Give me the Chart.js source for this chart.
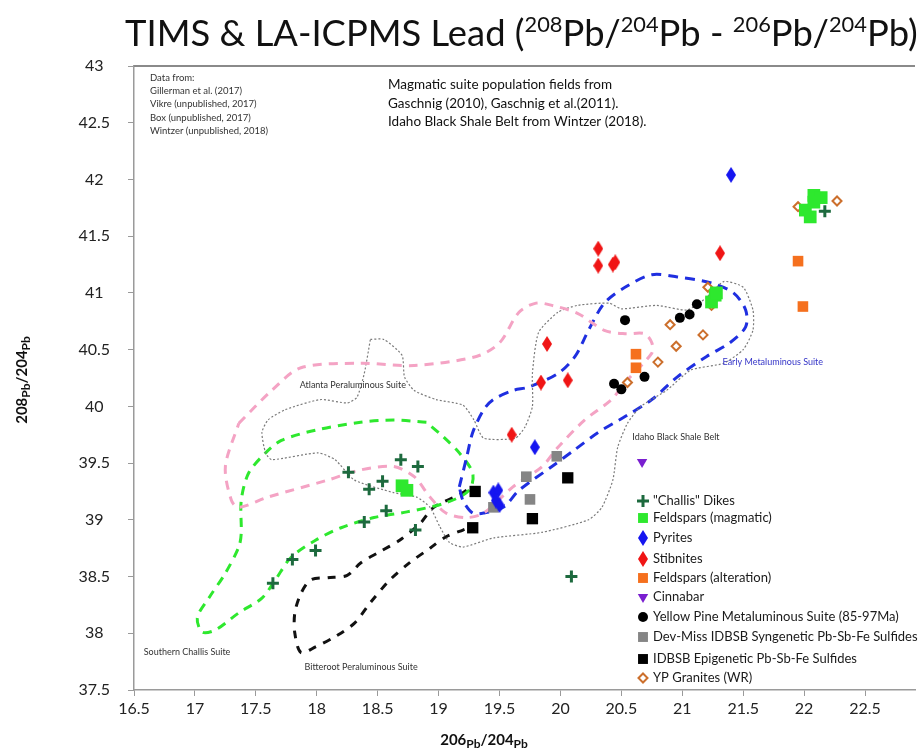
<!DOCTYPE html>
<html>
<head>
<meta charset="utf-8">
<script src="https://cdn.jsdelivr.net/npm/chart.js@4.4.0/dist/chart.umd.min.js"></script>
<style>
  body { margin: 0; background: #fff; }
  canvas { display: block; }
</style>
</head>
<body>
<canvas id="leadChart" width="924" height="755"></canvas>
<script>
// axis ticks
const xTicks = [16.5, 17, 17.5, 18, 18.5, 19, 19.5, 20, 20.5, 21, 21.5, 22, 22.5];
const yTicks = [37.5, 38, 38.5, 39, 39.5, 40, 40.5, 41, 41.5, 42, 42.5, 43];

// sample series [206Pb/204Pb, 208Pb/204Pb]
const challisDikes = [[18.26,39.42],[18.69,39.53],[18.83,39.47],[18.43,39.27],[18.54,39.34],[18.57,39.08],
  [18.39,38.98],[18.81,38.91],[17.99,38.73],[17.80,38.65],[17.64,38.44],[20.09,38.50],[22.17,41.72]];
const feldsparsMagmatic = [[18.70,39.30],[18.74,39.26],[21.27,40.98],[21.24,40.92],[21.28,41.00],
  [22.08,41.86],[22.14,41.84],[22.01,41.73],[22.05,41.67],[22.08,41.80]];
const pyrites = [[21.40,42.04],[19.79,39.64],[19.45,39.24],[19.49,39.26],[19.47,39.17],[19.50,39.13]];
const stibnites = [[20.31,41.39],[20.31,41.24],[20.43,41.25],[20.45,41.27],[21.31,41.35],[19.89,40.55],
  [19.84,40.21],[20.06,40.23],[19.60,39.75]];
const feldsparsAlteration = [[20.62,40.46],[20.62,40.34],[21.95,41.28],[21.99,40.88]];
const cinnabar = [[20.67,39.51]];
const yellowPine = [[20.53,40.76],[20.98,40.78],[21.06,40.81],[21.12,40.90],[20.44,40.20],[20.50,40.15],[20.69,40.26]];
const devMiss = [[19.97,39.56],[19.72,39.38],[19.75,39.18],[19.45,39.11]];
const idbsbEpi = [[19.30,39.25],[19.28,38.93],[20.06,39.37],[19.77,39.01]];
const ypGranites = [[21.95,41.76],[22.27,41.81],[21.21,41.05],[20.90,40.72],[20.95,40.53],[21.17,40.63],
  [20.80,40.39],[20.55,40.21],[21.24,40.89]];

// population field outlines
const atlantaField = [[17.36,39.85],[17.63,40.14],[17.87,40.34],[18.36,40.38],[18.80,40.36],[19.31,40.44],[19.50,40.56],
  [19.66,40.83],[19.80,40.91],[19.93,40.89],[20.14,40.82],[20.36,40.67],[20.53,40.64],[20.69,40.64],[20.75,40.56],
  [20.75,40.47],[20.53,40.21],[20.42,40.06],[20.20,39.88],[19.98,39.64],[19.85,39.47],[19.61,39.29],[19.37,39.06],
  [19.23,39.02],[19.06,39.06],[18.93,39.20],[18.80,39.38],[18.63,39.47],[18.36,39.44],[18.09,39.35],[17.60,39.20],
  [17.36,39.11],[17.30,39.17],[17.25,39.47],[17.36,39.85]];
const shaleBelt = [[18.44,40.59],[18.55,40.59],[18.70,40.45],[18.72,40.26],[18.80,40.14],[18.98,40.06],[19.20,40.01],
  [19.29,39.88],[19.37,39.72],[19.63,39.72],[19.71,39.82],[19.77,40.00],[19.77,40.29],[19.82,40.65],[19.98,40.83],
  [20.14,40.89],[20.40,40.91],[20.50,40.86],[20.79,40.89],[21.04,40.85],[21.20,40.96],[21.34,41.10],[21.50,41.05],
  [21.58,40.85],[21.58,40.67],[21.50,40.50],[21.34,40.38],[21.07,40.32],[20.87,40.14],[20.66,40.00],[20.55,39.85],
  [20.47,39.64],[20.43,39.35],[20.34,39.11],[20.23,39.00],[19.85,38.89],[19.45,38.84],[19.20,38.76],[19.09,38.80],
  [19.01,38.94],[18.93,39.11],[18.82,39.20],[18.63,39.24],[18.31,39.35],[18.15,39.53],[18.01,39.59],[17.63,39.53],
  [17.58,39.59],[17.55,39.77],[17.60,39.88],[17.74,39.97],[18.03,40.06],[18.25,40.03],[18.33,40.08],[18.39,40.29],
  [18.44,40.59]];
const earlyMetaluminous = [[19.17,39.29],[19.23,39.55],[19.28,39.77],[19.37,39.97],[19.45,40.06],[19.61,40.14],
  [19.74,40.17],[19.98,40.29],[20.12,40.44],[20.23,40.67],[20.36,40.91],[20.53,41.05],[20.75,41.16],[20.96,41.14],
  [21.23,41.09],[21.42,41.00],[21.52,40.85],[21.52,40.70],[21.39,40.56],[21.20,40.44],[20.96,40.26],[20.75,40.06],
  [20.53,39.91],[20.31,39.77],[20.12,39.62],[19.93,39.47],[19.66,39.26],[19.53,39.11],[19.37,39.06],[19.28,39.06],
  [19.20,39.17],[19.17,39.29]];
const southernChallis = [[18.90,39.86],[18.63,39.88],[18.36,39.86],[17.99,39.79],[17.71,39.70],[17.58,39.59],
  [17.44,39.41],[17.38,39.17],[17.38,38.88],[17.36,38.76],[17.25,38.53],[17.12,38.32],[17.02,38.14],[17.06,38.01],
  [17.17,38.03],[17.36,38.18],[17.55,38.31],[17.66,38.47],[17.79,38.67],[17.99,38.82],[18.20,38.93],[18.47,39.02],
  [18.74,39.07],[19.06,39.15],[19.25,39.26],[19.28,39.41],[19.17,39.59],[19.04,39.73],[18.90,39.86]];
const bitterroot = [[19.23,39.26],[19.17,39.22],[18.96,39.11],[18.85,38.97],[18.68,38.82],[18.52,38.72],[18.36,38.62],
  [18.25,38.51],[18.09,38.49],[17.95,38.47],[17.87,38.35],[17.82,38.18],[17.82,38.00],[17.87,37.83],[17.99,37.88],
  [18.15,37.97],[18.31,38.09],[18.44,38.27],[18.60,38.47],[18.76,38.62],[18.93,38.75],[19.06,38.85],[19.20,38.91],
  [19.28,38.94]];

const toXY = arr => arr.map(p => ({ x: p[0], y: p[1] }));

function diamondImg(color, w, h) {
  const c = document.createElement("canvas");
  c.width = w; c.height = h;
  const g = c.getContext("2d");
  g.fillStyle = color;
  g.beginPath();
  g.moveTo(w / 2, 0); g.lineTo(w, h / 2); g.lineTo(w / 2, h); g.lineTo(0, h / 2);
  g.closePath(); g.fill();
  return c;
}
const blueDiamond = diamondImg("#1515f0", 10, 16);
const redDiamond = diamondImg("#f01515", 10, 16);

function pts(label, data, style) {
  return Object.assign({
    label: label, data: toXY(data), showLine: false, order: 0,
    pointBorderWidth: 0, pointHoverRadius: 0
  }, style);
}
function field(label, data, color, width, dash, tension) {
  return {
    label: label, data: toXY(data), showLine: true, order: 10,
    borderColor: color, borderWidth: width, borderDash: dash,
    pointRadius: 0, pointHoverRadius: 0, fill: false, tension: tension
  };
}

const series = [
  pts('"Challis" Dikes', challisDikes, { pointStyle: "cross", pointRadius: 6, pointBorderWidth: 3, pointBorderColor: "#1d6a3e", pointBackgroundColor: "#1d6a3e" }),
  pts("Feldspars (magmatic)", feldsparsMagmatic, { pointStyle: "rect", pointRadius: 9, pointBackgroundColor: "#2ee82e", pointBorderColor: "#2ee82e" }),
  pts("Pyrites", pyrites, { pointStyle: blueDiamond, pointRadius: 8, pointBackgroundColor: "#1515f0" }),
  pts("Stibnites", stibnites, { pointStyle: redDiamond, pointRadius: 8, pointBackgroundColor: "#f01515" }),
  pts("Feldspars (alteration)", feldsparsAlteration, { pointStyle: "rect", pointRadius: 7.5, pointBackgroundColor: "#f5701e", pointBorderColor: "#f5701e" }),
  pts("Cinnabar", cinnabar, { pointStyle: "triangle", rotation: 180, pointRadius: 6, pointBackgroundColor: "#7a1fd0", pointBorderColor: "#7a1fd0" }),
  pts("Yellow Pine Metaluminous Suite (85-97Ma)", yellowPine, { pointStyle: "circle", pointRadius: 5, pointBackgroundColor: "#000", pointBorderColor: "#000" }),
  pts("Dev-Miss IDBSB Syngenetic Pb-Sb-Fe Sulfides", devMiss, { pointStyle: "rect", pointRadius: 7.5, pointBackgroundColor: "#858585", pointBorderColor: "#858585" }),
  pts("IDBSB Epigenetic Pb-Sb-Fe Sulfides", idbsbEpi, { pointStyle: "rect", pointRadius: 8, pointBackgroundColor: "#000", pointBorderColor: "#000" }),
  pts("YP Granites (WR)", ypGranites, { pointStyle: "rectRot", pointRadius: 4.5, pointBorderWidth: 2, pointBackgroundColor: "#fff", pointBorderColor: "#cc6f2c" })
];

const fields = [
  field("Atlanta Peraluminous Suite", atlantaField, "#f4a3c4", 3, [9, 7], 0.3),
  field("Idaho Black Shale Belt", shaleBelt, "#7a7a7a", 1.2, [2, 2], 0.2),
  field("Early Metaluminous Suite", earlyMetaluminous, "#1f2fe0", 3, [10, 7], 0.3),
  field("Southern Challis Suite", southernChallis, "#2ee82e", 3, [9, 7], 0.3),
  field("Bitterroot Peraluminous Suite", bitterroot, "#111", 3, [8, 8], 0.3)
];

const fieldLabels = [
  { text: "Atlanta Peraluminous Suite", x: 17.86, y: 40.19, color: "#333" },
  { text: "Southern Challis Suite", x: 16.58, y: 37.83, color: "#333" },
  { text: "Bitteroot Peraluminous Suite", x: 17.90, y: 37.70, color: "#333" },
  { text: "Early Metaluminous Suite", x: 21.33, y: 40.39, color: "#3535c8" },
  { text: "Idaho Black Shale Belt", x: 20.59, y: 39.73, color: "#333" }
];

const titleParts = [["TIMS & LA-ICPMS Lead (", 0], ["208", 1], ["Pb/", 0], ["204", 1], ["Pb - ", 0],
  ["206", 1], ["Pb/", 0], ["204", 1], ["Pb)", 0]];
const sourceNotes = ["Data from:", "Gillerman et al. (2017)", "Vikre (unpublished, 2017)", "Box (unpublished, 2017)", "Wintzer (unpublished, 2018)"];
const fieldNotes = ["Magmatic suite population fields from", "Gaschnig (2010), Gaschnig et al.(2011).", "Idaho Black Shale Belt from Wintzer (2018)."];

const FONT = "Lato, 'Open Sans', sans-serif";

function drawParts(ctx, parts, x, y, big, small, weight) {
  // parts: [text, kind] kind 0 normal, 1 superscript, 2 lowered
  let cx = x;
  parts.forEach(p => {
    const sz = p[1] === 0 ? big : small;
    ctx.font = weight + " " + sz + "px " + FONT;
    let dy = 0;
    if (p[1] === 1) dy = -big * 0.38;
    if (p[1] === 2) dy = big * 0.2;
    ctx.fillText(p[0], cx, y + dy);
    cx += ctx.measureText(p[0]).width;
  });
  return cx - x;
}
function partsWidth(ctx, parts, big, small, weight) {
  let w = 0;
  parts.forEach(p => {
    ctx.font = weight + " " + (p[1] === 0 ? big : small) + "px " + FONT;
    w += ctx.measureText(p[0]).width;
  });
  return w;
}

const decorations = {
  id: "decorations",
  afterDraw(chart) {
    const ctx = chart.ctx, area = chart.chartArea;
    const xs = chart.scales.x, ys = chart.scales.y;
    ctx.save();

    // top border of the plot box
    ctx.strokeStyle = "#8a8a8a";
    ctx.lineWidth = 2;
    ctx.beginPath();
    ctx.moveTo(area.left, area.top);
    ctx.lineTo(area.right, area.top);
    ctx.stroke();

    ctx.fillStyle = "#111";
    ctx.textBaseline = "alphabetic";
    ctx.textAlign = "left";

    // title, scaled to the reference width
    let w = partsWidth(ctx, titleParts, 40, 24, "normal");
    let s = 40 * 793 / w;
    drawParts(ctx, titleParts, 125, 46, s, s * 0.6, "normal");

    // axis titles
    const axParts = [["206", 0], ["Pb", 2], ["/", 0], ["204", 0], ["Pb", 2]];
    let aw = partsWidth(ctx, axParts, 15, 12, "bold");
    drawParts(ctx, axParts, 484 - aw / 2, 745, 15, 12, "bold");
    const ayParts = [["208", 0], ["Pb", 2], ["/", 0], ["204", 0], ["Pb", 2]];
    ctx.save();
    ctx.translate(27, 380);
    ctx.rotate(-Math.PI / 2);
    drawParts(ctx, ayParts, -aw / 2, 0, 15, 12, "bold");
    ctx.restore();

    // notes
    ctx.textBaseline = "middle";
    ctx.fillStyle = "#333";
    ctx.font = "9.5px " + FONT;
    sourceNotes.forEach((t, i) => ctx.fillText(t, 150, 78 + i * 13.2));
    ctx.fillStyle = "#111";
    ctx.font = "13.5px " + FONT;
    fieldNotes.forEach((t, i) => ctx.fillText(t, 388, 85 + i * 18.5));

    // field labels
    ctx.font = "9px " + FONT;
    fieldLabels.forEach(l => {
      ctx.fillStyle = l.color;
      ctx.fillText(l.text, xs.getPixelForValue(l.x), ys.getPixelForValue(l.y));
    });

    // legend inside the plot
    const rows = [501, 518, 538, 559, 578, 597, 617, 637, 659, 678];
    ctx.font = "13px " + FONT;
    series.forEach((ds, i) => {
      const y = rows[i];
      const o = {
        pointStyle: ds.pointStyle, rotation: ds.rotation || 0,
        radius: Math.min(ds.pointRadius, 7), borderWidth: ds.pointBorderWidth
      };
      ctx.fillStyle = ds.pointBackgroundColor;
      ctx.strokeStyle = ds.pointBorderColor || ds.pointBackgroundColor;
      ctx.lineWidth = ds.pointBorderWidth;
      Chart.helpers.drawPoint(ctx, o, 643, y);
      ctx.fillStyle = "#1a1a1a";
      ctx.fillText(ds.label, 653, y);
    });

    ctx.restore();
  }
};

const axisCommon = {
  type: "linear",
  border: { display: true, color: "#9a9a9a", width: 1.5 },
  grid: { display: true, drawOnChartArea: false, drawTicks: true, tickLength: 6, color: "#9a9a9a" },
  ticks: { color: "#222", font: { family: "Lato", size: 16 }, callback: v => String(v) }
};

new Chart(document.getElementById("leadChart"), {
  type: "scatter",
  data: { datasets: series.concat(fields) },
  options: {
    responsive: false,
    animation: false,
    events: [],
    layout: { padding: { top: 66, right: 0, left: 0, bottom: 0 } },
    plugins: { legend: { display: false }, tooltip: { enabled: false }, title: { display: false } },
    scales: {
      x: Object.assign({}, axisCommon, {
        min: 16.5, max: 22.91,
        ticks: Object.assign({}, axisCommon.ticks, { padding: 3 }),
        afterBuildTicks: sc => { sc.ticks = xTicks.map(v => ({ value: v })); },
        afterFit: sc => { sc.height = 65; }
      }),
      y: Object.assign({}, axisCommon, {
        min: 37.5, max: 43,
        ticks: Object.assign({}, axisCommon.ticks, { padding: 18, crossAlign: "center" }),
        afterBuildTicks: sc => { sc.ticks = yTicks.map(v => ({ value: v })); },
        afterFit: sc => { sc.width = 134; }
      })
    }
  },
  plugins: [decorations]
});
</script>
</body>
</html>
